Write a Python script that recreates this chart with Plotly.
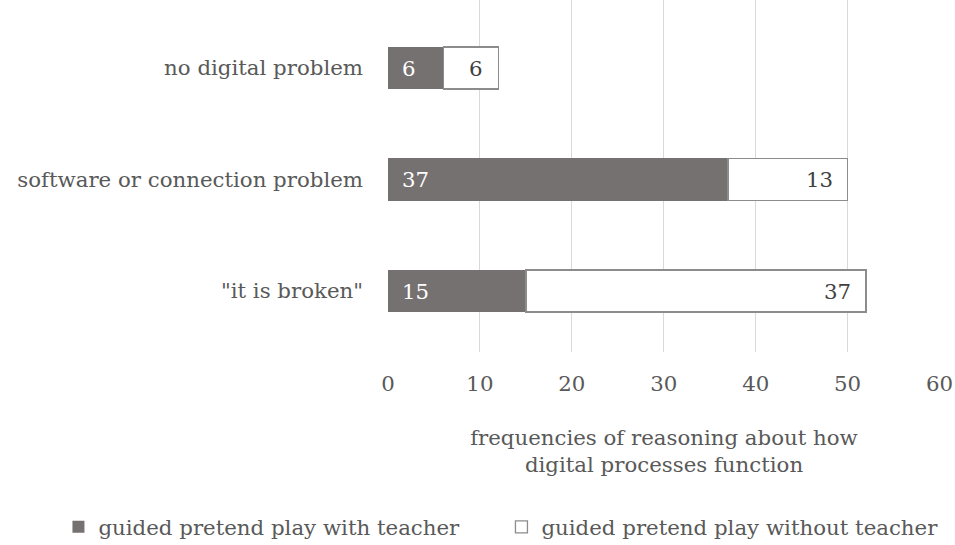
import plotly.graph_objects as go

categories = ['"it is broken"', 'software or connection problem', 'no digital problem']
with_teacher = [15, 37, 6]
without_teacher = [37, 13, 6]
series_names = ["guided pretend play with teacher", "guided pretend play without teacher"]
x_ticks = [0, 10, 20, 30, 40, 50, 60]

FONT = "DejaVu Serif"
FS = 21.3
fig = go.Figure()
fig.add_trace(go.Bar(
    y=categories, x=with_teacher, orientation="h", name=series_names[0],
    marker=dict(color="#767171", line=dict(color="#767171", width=0)),
))
fig.add_trace(go.Bar(
    y=categories, x=without_teacher, orientation="h", name=series_names[1],
    marker=dict(color="white", line=dict(color="#8c8c8c", width=1.3)),
))
# data labels
for cat, a, b in zip(categories, with_teacher, without_teacher):
    fig.add_annotation(x=0, y=cat, xref="x", yref="y", text=str(a), showarrow=False,
                       xanchor="left", xshift=12, font=dict(color="white", size=FS, family=FONT))
    fig.add_annotation(x=a + b, y=cat, xref="x", yref="y", text=str(b), showarrow=False,
                       xanchor="right", xshift=-13, font=dict(color="#404040", size=FS, family=FONT))

fig.update_layout(
    barmode="stack", bargap=0.623,
    width=955, height=545,
    margin=dict(l=388, r=15, t=0, b=193, autoexpand=False),
    plot_bgcolor="white", paper_bgcolor="white",
    font=dict(family=FONT, size=FS, color="#595959"),
    xaxis=dict(range=[0, 60.05], tickvals=x_ticks, showgrid=True, gridcolor="#d9d9d9",
               gridwidth=1, zeroline=False, showline=False, ticks="", ticklen=0,
               ticklabeloverflow="allow",
               tickfont=dict(size=FS, color="#595959"), ticklabelstandoff=17,
               title=dict(text="frequencies of reasoning about how<br>digital processes function",
                          font=dict(size=FS, color="#595959"), standoff=34)),
    yaxis=dict(range=[-0.547, 2.61], showgrid=False, zeroline=False, showline=False, ticks="",
               tickfont=dict(size=FS, color="#595959"), ticklabelstandoff=24),
    legend=dict(orientation="h", x=-0.597, xanchor="left", xref="paper",
                y=-0.497, yanchor="middle", yref="paper",
                font=dict(size=FS, color="#595959"), traceorder="normal",
                itemwidth=30, entrywidth=398),
)
fig.write_html("out.html", config={"displayModeBar": False},
               post_script="document.body.style.margin='0';document.body.style.overflow='hidden';")
